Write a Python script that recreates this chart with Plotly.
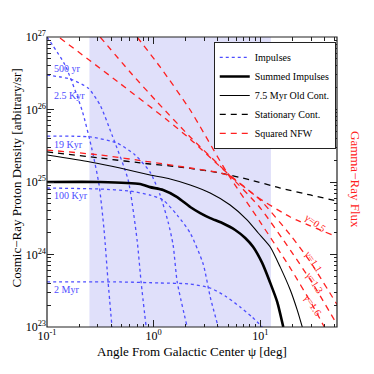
import math
import plotly.graph_objects as go

# ---- data (angle in deg, density) ----
imp_500yr_x = [0.1, 0.1476, 0.213, 0.265, 0.308, 0.343, 0.374, 0.407]
imp_500yr_y = [1.0e27, 4.1e26, 9.8e25, 2.76e25, 9.1e24, 2.18e24, 4.2e23, 1.0e23]

imp_2p5kyr_x = [0.1, 0.1644, 0.2427, 0.3148, 0.4074, 0.5764, 0.70, 0.763, 0.851]
imp_2p5kyr_y = [2.99e26, 2.64e26, 1.98e26, 1.15e26, 4.44e25, 1.07e25, 1.58e24, 4.18e23, 1.0e23]

imp_19kyr_x = [0.1, 0.254, 0.454, 0.670, 0.927, 1.151, 1.368, 1.524, 1.663, 2.064]
imp_19kyr_y = [4.3e25, 4.18e25, 3.45e25, 2.36e25, 1.37e25, 6.6e24, 2.8e24, 1.35e24, 4.2e23, 1.0e23]

imp_100kyr_x = [0.1, 0.315, 0.601, 0.927, 1.227, 1.663, 2.203, 2.917, 3.394, 4.036]
imp_100kyr_y = [8.26e24, 8.0e24, 7.5e24, 6.6e24, 5.65e24, 3.5e24, 1.98e24, 7.4e23, 2.6e23, 1.0e23]

imp_2myr_x = [0.1, 0.484, 1.151, 2.203, 3.394, 4.69, 6.48, 8.41, 10.45]
imp_2myr_y = [4.18e23, 4.18e23, 4.05e23, 3.92e23, 3.45e23, 2.68e23, 1.89e23, 1.37e23, 1.0e23]

summed_x = [0.1, 0.315, 0.746, 0.927, 1.227, 1.663, 2.203, 2.735, 3.394, 4.40, 5.82, 7.23, 8.59, 10.45, 12.42, 14.45, 16.45]
summed_y = [1.0e25, 1.0e25, 9.4e24, 8.5e24, 7.76e24, 6.2e24, 4.52e24, 3.73e24, 3.18e24, 2.72e24, 2.18e24, 1.69e24, 1.27e24, 7.6e23, 4.05e23, 2.21e23, 1.0e23]

old_x = [0.1, 0.254, 0.484, 0.927, 1.429, 2.203, 3.394, 5.22, 7.56, 9.58, 12.42, 15.41, 19.14, 22.25, 24.79]
old_y = [2.36e25, 1.89e25, 1.56e25, 1.25e25, 1.1e25, 9.1e24, 7.05e24, 4.82e24, 2.99e24, 1.98e24, 1.27e24, 6.7e23, 3.24e23, 1.71e23, 1.0e23]

stat_x = [0.1, 0.315, 0.927, 1.775, 4.21, 8.05, 15.41, 29.5, 52.8]
stat_y = [2.6e25, 2.14e25, 1.77e25, 1.61e25, 1.33e25, 1.07e25, 8.26e24, 6.62e24, 5.47e24]

nfw05_x = [0.1, 0.315, 0.927, 2.203, 4.90, 9.37, 19.14, 47.4]
nfw05_y = [2.76e25, 2.36e25, 1.89e25, 1.56e25, 1.25e25, 6.2e24, 3.29e24, 1.86e24]

nfw11_x = [0.1324, 0.465, 1.34, 2.203, 4.90, 10.0, 19.14, 29.5, 52.8]
nfw11_y = [9.7e26, 2.39e26, 7.16e25, 3.91e25, 1.33e25, 5.65e24, 1.86e24, 7.9e23, 2.01e23]

nfw13_x = [0.315, 0.601, 1.079, 2.203, 4.90, 10.0, 19.14, 30.8, 52.8]
nfw13_y = [1.0e27, 3.29e26, 1.27e26, 4.18e25, 1.33e25, 4.38e24, 1.15e24, 4.05e23, 1.07e23]

nfw16_x = [0.70, 1.151, 2.203, 4.90, 10.0, 19.14, 30.8, 39.9]
nfw16_y = [1.0e27, 3.86e26, 9.84e25, 1.33e25, 2.8e24, 6.5e23, 2.01e23, 1.0e23]

impulse_labels = ["500 yr", "2.5 Kyr", "19 Kyr", "100 Kyr", "2 Myr"]
impulse_label_y = [3.73e26, 1.58e26, 3.34e25, 6.6e24, 3.24e23]
gamma_labels = ["γ=0.5", "γ=1.1", "γ=1.3", "γ=1.6"]
gamma_label_x = [32.5, 31.5, 32.0, 31.5]
gamma_label_y = [2.72e24, 7.9e23, 4.05e23, 2.01e23]
gamma_label_angle = [37, 57, 57, 57]

shade_range = [0.25, 12.6]

BLUE = "#4d4dff"
RED = "#ff2020"
AXC = "#222222"
FONT = "Liberation Serif"

fig = go.Figure()

fig.add_vrect(x0=shade_range[0], x1=shade_range[1], fillcolor="#e0e0fa",
              opacity=1, line_width=0, layer="below")

imp_sets = [(imp_500yr_x, imp_500yr_y), (imp_2p5kyr_x, imp_2p5kyr_y),
            (imp_19kyr_x, imp_19kyr_y), (imp_100kyr_x, imp_100kyr_y),
            (imp_2myr_x, imp_2myr_y)]
for i, (xs, ys) in enumerate(imp_sets):
    fig.add_trace(go.Scatter(x=xs, y=ys, mode="lines", name="Impulses",
                             showlegend=(i == 0),
                             line=dict(color=BLUE, width=1.3, dash="dot", shape="spline", smoothing=0.6)))

fig.add_trace(go.Scatter(x=summed_x, y=summed_y, mode="lines", name="Summed Impulses",
                         line=dict(color="black", width=2.6, shape="spline", smoothing=0.6)))
fig.add_trace(go.Scatter(x=old_x, y=old_y, mode="lines", name="7.5 Myr Old Cont.",
                         line=dict(color="black", width=1.1, shape="spline", smoothing=0.6)))
fig.add_trace(go.Scatter(x=stat_x, y=stat_y, mode="lines", name="Stationary Cont.",
                         line=dict(color="black", width=1.3, dash="6px,5px", shape="spline", smoothing=0.6)))
nfw_sets = [(nfw05_x, nfw05_y), (nfw11_x, nfw11_y), (nfw13_x, nfw13_y), (nfw16_x, nfw16_y)]
for i, (xs, ys) in enumerate(nfw_sets):
    fig.add_trace(go.Scatter(x=xs, y=ys, mode="lines", name="Squared NFW",
                             showlegend=(i == 0),
                             line=dict(color=RED, width=1.3, dash="6px,5px", shape="spline", smoothing=0.6)))

for t, yv in zip(impulse_labels, impulse_label_y):
    fig.add_annotation(xref="x", yref="y", x=-0.955, y=math.log10(yv), text=t,
                       showarrow=False, xanchor="left", yanchor="middle",
                       font=dict(family=FONT, size=10, color=BLUE))

for t, xv, yv, a in zip(gamma_labels, gamma_label_x, gamma_label_y, gamma_label_angle):
    fig.add_annotation(xref="x", yref="y", x=math.log10(xv), y=math.log10(yv), text=t,
                       showarrow=False, textangle=a,
                       font=dict(family=FONT, size=10, color=RED))

# axis titles
fig.add_annotation(xref="paper", yref="paper", x=0.5, y=-0.086, text="Angle From Galactic Center ψ [deg]",
                   showarrow=False, xanchor="center", yanchor="middle",
                   font=dict(family=FONT, size=13, color="black"))
fig.add_annotation(xref="paper", yref="paper", x=-0.105, y=0.514, text="Cosmic−Ray Proton Density [arbitrary/sr]",
                   showarrow=False, textangle=-90, xanchor="center", yanchor="middle",
                   font=dict(family=FONT, size=13, color="black"))
fig.add_annotation(xref="paper", yref="paper", x=1.062, y=0.507, text="Gamma−Ray Flux",
                   showarrow=False, textangle=90, xanchor="center", yanchor="middle",
                   font=dict(family=FONT, size=13, color=RED))

# plot frame
fig.add_shape(type="rect", xref="paper", yref="paper", x0=0, x1=1, y0=0, y1=1,
              line=dict(color=AXC, width=1.2), fillcolor="rgba(0,0,0,0)", layer="above")

x_minor = [m * 10.0 ** e for e in (-1, 0, 1) for m in range(2, 10) if m * 10.0 ** e < 53]
y_minor = [m * 10.0 ** e for e in (23, 24, 25, 26) for m in range(2, 10)]

fig.update_xaxes(type="log", range=[-1, 1.72],
                 showline=False, mirror="allticks",
                 ticks="inside", ticklen=7, tickcolor=AXC,
                 showgrid=False, zeroline=False, automargin=False,
                 tickfont=dict(family=FONT, size=12, color="black"),
                 tickvals=[0.1, 1, 10],
                 ticktext=["10<sup>-1</sup>", "10<sup>0</sup>", "10<sup>1</sup>"],
                 minor=dict(tickmode="array", tickvals=x_minor, ticks="inside", ticklen=3.5,
                            tickcolor=AXC, showgrid=False))
fig.update_yaxes(type="log", range=[23, 27],
                 showline=False, mirror="allticks",
                 ticks="inside", ticklen=7, tickcolor=AXC,
                 showgrid=False, zeroline=False, automargin=False,
                 tickfont=dict(family=FONT, size=12, color="black"),
                 tickvals=[1e23, 1e24, 1e25, 1e26, 1e27],
                 ticktext=["10<sup>23</sup>", "10<sup>24</sup>", "10<sup>25</sup>", "10<sup>26</sup>", "10<sup>27</sup>"],
                 minor=dict(tickmode="array", tickvals=y_minor, ticks="inside", ticklen=3.5,
                            tickcolor=AXC, showgrid=False))

fig.update_layout(
    width=366, height=366,
    margin=dict(l=39, r=37, t=29, b=47, autoexpand=False),
    paper_bgcolor="white", plot_bgcolor="white",
    font=dict(family=FONT, size=12, color="black"),
    legend=dict(x=0.575, y=0.983, xanchor="left", yanchor="top",
                bgcolor="white", bordercolor=AXC, borderwidth=1,
                font=dict(family=FONT, size=10, color="black"),
                tracegroupgap=0, itemwidth=30),
)

fig.write_html("out.html")
